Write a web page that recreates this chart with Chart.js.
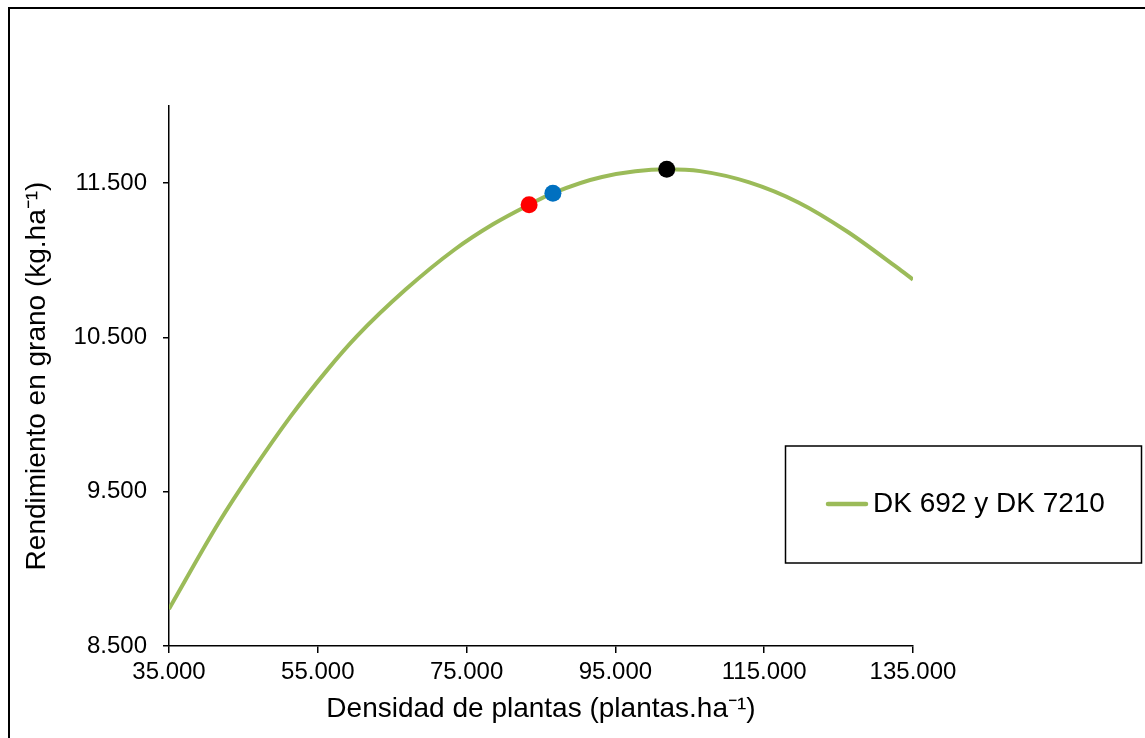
<!DOCTYPE html>
<html>
<head>
<meta charset="utf-8">
<script src="https://cdn.jsdelivr.net/npm/chart.js@4/dist/chart.umd.min.js"></script>
<style>
  html, body { margin: 0; padding: 0; background: #fff; }
  #wrap { width: 1145px; height: 738px; position: relative; }
</style>
</head>
<body>
<div id="wrap"><canvas id="c" width="1145" height="738"></canvas></div>
<script>
// ---- data ----
const seriesLabel = 'DK 692 y DK 7210';
const curveX = [35000, 41700, 46000, 51300, 56200, 60200, 66800, 73400, 78600, 83400, 86600, 93200, 101900, 106400, 113000, 119600, 126200, 132800, 135000];
const curveY = [8740, 9300, 9620, 9985, 10285, 10505, 10810, 11070, 11235, 11360, 11435, 11540, 11590, 11578, 11505, 11375, 11185, 10955, 10875];
const markerX = [83400, 86600, 101900];
const markerY = [11360, 11435, 11590];
const markerColors = ['#FF0000', '#0070C0', '#000000'];
const xTicks = [35000, 55000, 75000, 95000, 115000, 135000];
const yTicks = [8500, 9500, 10500, 11500];
const xTitle = 'Densidad de plantas (plantas.ha\u207B\u00B9)';
const yTitle = 'Rendimiento en grano (kg.ha\u207B\u00B9)';

const FONT = '"Liberation Sans", Arial, sans-serif';
const GREEN = '#9BBB59';

function fmt(v) {
  return String(Math.round(v)).replace(/\B(?=(\d{3})+(?!\d))/g, '.');
}

const datasets = markerX.map((x, i) => ({
  label: 'p' + i,
  data: [{ x: x, y: markerY[i] }],
  backgroundColor: markerColors[i],
  borderColor: markerColors[i],
  pointRadius: 8.5,
  pointBorderWidth: 0,
  showLine: false,
  order: 1
}));
datasets.push({
  label: seriesLabel,
  data: curveX.map((x, i) => ({ x: x, y: curveY[i] })),
  borderColor: GREEN,
  backgroundColor: GREEN,
  borderWidth: 4,
  pointRadius: 0,
  showLine: true,
  cubicInterpolationMode: 'monotone',
  order: 2
});

const framePlugin = {
  id: 'frame',
  beforeDraw(chart) {
    const ctx = chart.ctx;
    ctx.save();
    ctx.fillStyle = '#fff';
    ctx.fillRect(0, 0, chart.width, chart.height);
    ctx.strokeStyle = '#000';
    ctx.lineWidth = 2;
    ctx.strokeRect(9, 8, 1400, 1000);
    ctx.restore();
  },
  afterDraw(chart) {
    const ctx = chart.ctx;
    const ds = chart.data.datasets.find(d => d.label === seriesLabel);
    ctx.save();
    // legend box
    ctx.strokeStyle = '#000';
    ctx.lineWidth = 1.5;
    ctx.strokeRect(785.5, 446, 356, 117);
    // sample line
    ctx.strokeStyle = ds.borderColor;
    ctx.lineWidth = 4.5;
    ctx.lineCap = 'round';
    ctx.beginPath();
    ctx.moveTo(828, 504);
    ctx.lineTo(866, 504);
    ctx.stroke();
    // text
    ctx.fillStyle = '#000';
    ctx.font = '28px ' + FONT;
    ctx.textBaseline = 'middle';
    ctx.textAlign = 'left';
    ctx.fillText(ds.label, 873, 504);
    ctx.restore();
  }
};

new Chart(document.getElementById('c'), {
  type: 'scatter',
  data: { datasets: datasets },
  options: {
    responsive: false,
    animation: false,
    devicePixelRatio: 1,
    layout: { padding: { left: 10, top: 106, right: 232, bottom: 0 } },
    plugins: {
      legend: { display: false },
      tooltip: { enabled: false }
    },
    scales: {
      x: {
        type: 'linear',
        min: 35000,
        max: 135000,
        afterBuildTicks: (axis) => { axis.ticks = xTicks.map(v => ({ value: v })); },
        afterFit: (axis) => { axis.height = 92; },
        border: { display: true, color: '#000', width: 1.5 },
        grid: { display: true, drawOnChartArea: false, drawTicks: true, tickLength: 7, color: '#000', lineWidth: 1.5 },
        ticks: {
          callback: (v) => fmt(v),
          color: '#000',
          font: { family: FONT, size: 24 },
          padding: 5,
          maxRotation: 0,
          autoSkip: false
        },
        title: {
          display: true,
          text: xTitle,
          color: '#000',
          font: { family: FONT, size: 28 },
          padding: { top: 0, bottom: 12 }
        }
      },
      y: {
        type: 'linear',
        min: 8500,
        max: 12000,
        afterBuildTicks: (axis) => { axis.ticks = yTicks.map(v => ({ value: v })); },
        afterFit: (axis) => { axis.width = 159; },
        border: { display: true, color: '#000', width: 1.5 },
        grid: { display: true, drawOnChartArea: false, drawTicks: true, tickLength: 6, color: '#000', lineWidth: 1.5 },
        ticks: {
          callback: (v) => fmt(v),
          color: '#000',
          font: { family: FONT, size: 24 },
          padding: 16,
          autoSkip: false
        },
        title: {
          display: true,
          text: yTitle,
          color: '#000',
          font: { family: FONT, size: 28 },
          padding: { top: 10, bottom: 0 }
        }
      }
    }
  },
  plugins: [framePlugin]
});
</script>
</body>
</html>
